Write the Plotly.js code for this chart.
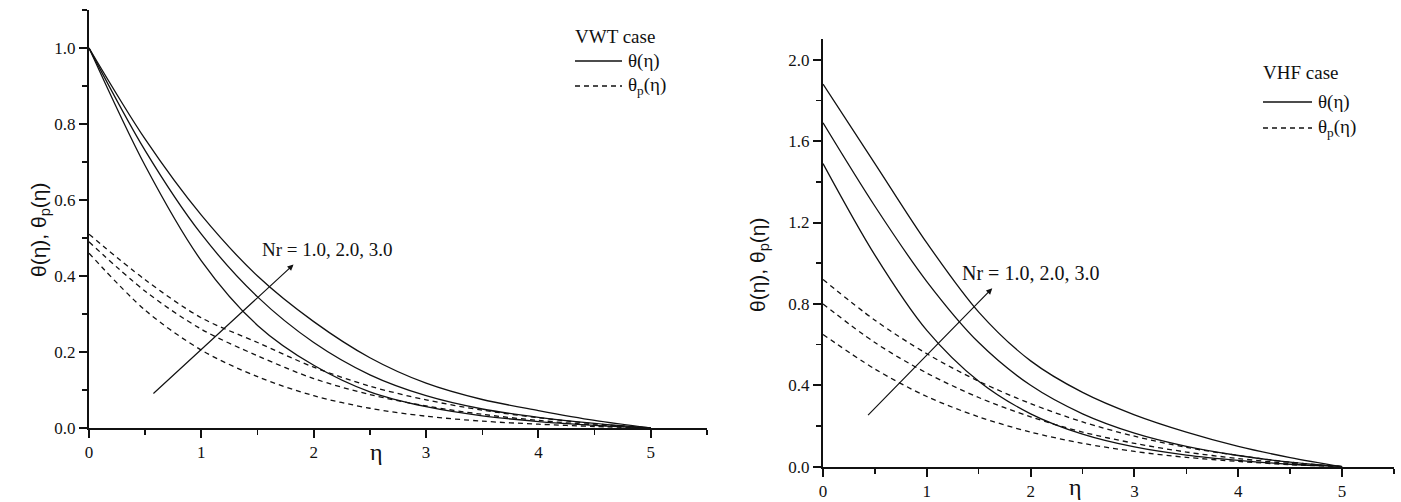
<!DOCTYPE html>
<html><head><meta charset="utf-8">
<script src="https://cdn.plot.ly/plotly-3.0.1.min.js"></script>
<style>html,body{margin:0;padding:0;background:#fff}#chart{width:1401px;height:502px}</style>
</head><body><div id="chart"></div>
<script>
// eta grid
const eta = [0, 0.5, 1, 1.5, 2, 2.5, 3, 3.5, 4, 4.5, 5];

// VWT case (left panel)
const vwtThetaNr1 = [1.0, 0.69, 0.44, 0.27, 0.165, 0.095, 0.056, 0.032, 0.017, 0.007, 0];
const vwtThetaNr2 = [1.0, 0.73, 0.51, 0.345, 0.225, 0.14, 0.085, 0.05, 0.028, 0.012, 0];
const vwtThetaNr3 = [1.0, 0.76, 0.56, 0.40, 0.28, 0.185, 0.118, 0.075, 0.046, 0.02, 0];
const vwtThetaPNr1 = [0.46, 0.31, 0.205, 0.135, 0.085, 0.052, 0.031, 0.018, 0.01, 0.004, 0];
const vwtThetaPNr2 = [0.49, 0.36, 0.26, 0.19, 0.13, 0.088, 0.058, 0.036, 0.02, 0.008, 0];
const vwtThetaPNr3 = [0.51, 0.39, 0.29, 0.225, 0.16, 0.11, 0.074, 0.047, 0.027, 0.011, 0];

// VHF case (right panel)
const vhfThetaNr1 = [1.49, 1.04, 0.67, 0.42, 0.26, 0.16, 0.097, 0.057, 0.031, 0.012, 0];
const vhfThetaNr2 = [1.69, 1.28, 0.91, 0.61, 0.40, 0.26, 0.165, 0.10, 0.055, 0.022, 0];
const vhfThetaNr3 = [1.88, 1.49, 1.10, 0.76, 0.52, 0.365, 0.255, 0.17, 0.10, 0.045, 0];
const vhfThetaPNr1 = [0.65, 0.48, 0.345, 0.245, 0.17, 0.115, 0.075, 0.046, 0.026, 0.01, 0];
const vhfThetaPNr2 = [0.80, 0.61, 0.46, 0.34, 0.245, 0.17, 0.115, 0.072, 0.04, 0.016, 0];
const vhfThetaPNr3 = [0.92, 0.72, 0.555, 0.42, 0.31, 0.22, 0.15, 0.095, 0.055, 0.022, 0];

// text
const leftCase = 'VWT case';
const rightCase = 'VHF case';
const legSolid = 'θ(η)';
const legDashed = 'θ<sub>p</sub>(η)';
const yTitle = 'θ(η), θ<sub>p</sub>(η)';
const xTitle = 'η';
const nrLabel = 'Nr = 1.0, 2.0, 3.0';
const xTickVals = [0, 1, 2, 3, 4, 5];
const xTickText = ['0', '1', '2', '3', '4', '5'];
const yTickValsL = [0, 0.2, 0.4, 0.6, 0.8, 1.0];
const yTickTextL = ['0.0', '0.2', '0.4', '0.6', '0.8', '1.0'];
const yTickValsR = [0, 0.4, 0.8, 1.2, 1.6, 2.0];
const yTickTextR = ['0.0', '0.4', '0.8', '1.2', '1.6', '2.0'];

const W = 1401, H = 502;
const px = v => v / W;
const py = v => 1 - v / H;

function tr(y, xa, ya, dashed) {
  return {
    x: eta, y: y, xaxis: xa, yaxis: ya, type: 'scatter', mode: 'lines',
    line: {color: '#111', width: 1.3, dash: dashed ? '5px,4px' : 'solid', shape: 'spline', smoothing: 0.9},
    showlegend: false, hoverinfo: 'skip'
  };
}

const data = [
  tr(vwtThetaNr1, 'x', 'y', false), tr(vwtThetaNr2, 'x', 'y', false), tr(vwtThetaNr3, 'x', 'y', false),
  tr(vwtThetaPNr1, 'x', 'y', true), tr(vwtThetaPNr2, 'x', 'y', true), tr(vwtThetaPNr3, 'x', 'y', true),
  tr(vhfThetaNr1, 'x2', 'y2', false), tr(vhfThetaNr2, 'x2', 'y2', false), tr(vhfThetaNr3, 'x2', 'y2', false),
  tr(vhfThetaPNr1, 'x2', 'y2', true), tr(vhfThetaPNr2, 'x2', 'y2', true), tr(vhfThetaPNr3, 'x2', 'y2', true)
];

const serif = 'Liberation Serif, Times New Roman, serif';
const tickFont = {family: serif, size: 17, color: '#111'};
function xax(domain, anchor) {
  return {
    domain: domain, anchor: anchor, range: [0, 5.5], showgrid: false, zeroline: false,
    showline: true, linecolor: '#111', linewidth: 2,
    ticks: 'outside', ticklen: 8, tickwidth: 2, tickcolor: '#111',
    tickvals: xTickVals, ticktext: xTickText, tickfont: tickFont,
    minor: {dtick: 0.5, tick0: 0, ticks: 'outside', ticklen: 5, tickwidth: 1.5, tickcolor: '#111', showgrid: false}
  };
}
function yax(domain, anchor, range, vals, text, minorD) {
  return {
    domain: domain, anchor: anchor, range: range, showgrid: false, zeroline: false,
    showline: true, linecolor: '#111', linewidth: 2,
    ticks: 'outside', ticklen: 8, tickwidth: 2, tickcolor: '#111',
    tickvals: vals, ticktext: text, tickfont: tickFont,
    minor: {dtick: minorD, tick0: 0, ticks: 'outside', ticklen: 5, tickwidth: 1.5, tickcolor: '#111', showgrid: false}
  };
}

const annFont = {family: serif, size: 19, color: '#111'};

const annotations = [
  // Arrows
  {xref: 'x', yref: 'y', axref: 'x', ayref: 'y', x: 1.82, y: 0.43, ax: 0.56, ay: 0.087,
   showarrow: true, arrowhead: 2, arrowsize: 1, arrowwidth: 1.2, arrowcolor: '#111', text: ''},
  {xref: 'x2', yref: 'y2', axref: 'x2', ayref: 'y2', x: 1.63, y: 0.877, ax: 0.42, ay: 0.246,
   showarrow: true, arrowhead: 2, arrowsize: 1, arrowwidth: 1.2, arrowcolor: '#111', text: ''},
  // Nr labels
  {xref: 'x', yref: 'y', x: 1.52, y: 0.47, xanchor: 'left', yanchor: 'middle', showarrow: false,
   text: nrLabel, font: {family: serif, size: 19, color: '#111'}},
  {xref: 'x2', yref: 'y2', x: 1.32, y: 0.95, xanchor: 'left', yanchor: 'middle', showarrow: false,
   text: nrLabel, font: {family: serif, size: 20, color: '#111'}},
  // x titles
  {xref: 'paper', yref: 'paper', x: px(368), y: py(467), showarrow: false, text: xTitle,
   font: {family: serif, size: 24, color: '#111'}},
  {xref: 'paper', yref: 'paper', x: px(1084), y: 0, yanchor: 'bottom', showarrow: false, text: xTitle,
   font: {family: serif, size: 24, color: '#111'}},
  // y titles
  {xref: 'paper', yref: 'paper', x: px(25), y: py(230), showarrow: false, text: yTitle, textangle: -90,
   font: {family: 'Liberation Sans, Arial, sans-serif', size: 21, color: '#111'}},
  {xref: 'paper', yref: 'paper', x: px(759), y: py(265), showarrow: false, text: yTitle, textangle: -90,
   font: {family: 'Liberation Sans, Arial, sans-serif', size: 21, color: '#111'}},
  // legend texts
  {xref: 'paper', yref: 'paper', x: px(573), y: py(36), xanchor: 'left', yanchor: 'middle', showarrow: false, text: leftCase, font: annFont},
  {xref: 'paper', yref: 'paper', x: px(626), y: py(61), xanchor: 'left', yanchor: 'middle', showarrow: false, text: legSolid, font: annFont},
  {xref: 'paper', yref: 'paper', x: px(626), y: py(86), xanchor: 'left', yanchor: 'middle', showarrow: false, text: legDashed, font: annFont},
  {xref: 'paper', yref: 'paper', x: px(1261), y: py(73), xanchor: 'left', yanchor: 'middle', showarrow: false, text: rightCase, font: annFont},
  {xref: 'paper', yref: 'paper', x: px(1316), y: py(102), xanchor: 'left', yanchor: 'middle', showarrow: false, text: legSolid, font: annFont},
  {xref: 'paper', yref: 'paper', x: px(1316), y: py(128), xanchor: 'left', yanchor: 'middle', showarrow: false, text: legDashed, font: annFont}
];

const shapes = [
  {type: 'line', xref: 'paper', yref: 'paper', x0: px(575), x1: px(622), y0: py(61), y1: py(61), line: {color: '#111', width: 1.3}},
  {type: 'line', xref: 'paper', yref: 'paper', x0: px(575), x1: px(622), y0: py(86), y1: py(86), line: {color: '#111', width: 1.3, dash: '5px,4px'}},
  {type: 'line', xref: 'paper', yref: 'paper', x0: px(1263), x1: px(1312), y0: py(102), y1: py(102), line: {color: '#111', width: 1.3}},
  {type: 'line', xref: 'paper', yref: 'paper', x0: px(1263), x1: px(1312), y0: py(128), y1: py(128), line: {color: '#111', width: 1.3, dash: '5px,4px'}}
];

const layout = {
  width: W, height: H, margin: {l: 0, r: 0, t: 0, b: 0},
  paper_bgcolor: '#fff', plot_bgcolor: '#fff', showlegend: false,
  xaxis: xax([px(89), px(707)], 'y'),
  yaxis: yax([1 - 428 / H, 1 - 10 / H], 'x', [0, 1.1], yTickValsL, yTickTextL, 0.1),
  xaxis2: xax([px(823), px(1394)], 'y2'),
  yaxis2: yax([1 - 466.7 / H, 1 - 39.4 / H], 'x2', [0, 2.1], yTickValsR, yTickTextR, 0.2),
  annotations: annotations, shapes: shapes
};

Plotly.newPlot('chart', data, layout, {displayModeBar: false, staticPlot: true});
</script>
</body></html>
